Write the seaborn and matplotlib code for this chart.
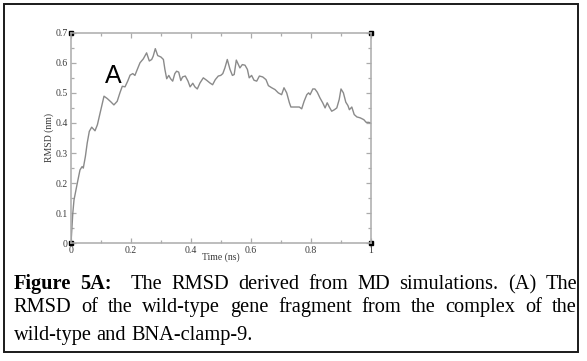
import numpy as np
import pandas as pd
import seaborn as sns
import matplotlib
matplotlib.use("Agg")
import matplotlib.pyplot as plt
from matplotlib.patches import Rectangle
from matplotlib.transforms import IdentityTransform

# ---------------- data ----------------
time_ns = [0.0, 0.006, 0.01, 0.021, 0.03, 0.037, 0.041, 0.048, 0.054, 0.061,
           0.069, 0.08, 0.088, 0.097, 0.11, 0.121, 0.133, 0.143, 0.154, 0.163,
           0.171, 0.18, 0.189, 0.197, 0.206, 0.213, 0.221, 0.23, 0.241, 0.252,
           0.261, 0.269, 0.274, 0.281, 0.289, 0.3, 0.308, 0.313, 0.319, 0.326,
           0.332, 0.339, 0.346, 0.352, 0.359, 0.366, 0.372, 0.381, 0.39, 0.397,
           0.406, 0.413, 0.421, 0.43, 0.441, 0.452, 0.463, 0.472, 0.481, 0.491,
           0.499, 0.506, 0.513, 0.521, 0.53, 0.538, 0.544, 0.551, 0.558, 0.563,
           0.571, 0.58, 0.588, 0.594, 0.602, 0.61, 0.619, 0.628, 0.639, 0.65,
           0.658, 0.669, 0.68, 0.691, 0.702, 0.71, 0.719, 0.728, 0.733, 0.747,
           0.761, 0.769, 0.777, 0.786, 0.792, 0.797, 0.806, 0.813, 0.821, 0.83,
           0.839, 0.847, 0.854, 0.861, 0.869, 0.878, 0.886, 0.894, 0.9, 0.908,
           0.916, 0.923, 0.928, 0.936, 0.944, 0.953, 0.964, 0.976, 0.984, 0.992,
           1.0]
rmsd_nm = [0.0, 0.1, 0.144, 0.2, 0.244, 0.255, 0.25, 0.289, 0.333, 0.372,
           0.386, 0.374, 0.394, 0.433, 0.489, 0.481, 0.47, 0.46, 0.472, 0.5,
           0.522, 0.52, 0.539, 0.559, 0.564, 0.558, 0.578, 0.6, 0.613, 0.633,
           0.606, 0.611, 0.622, 0.647, 0.624, 0.619, 0.611, 0.578, 0.547, 0.558,
           0.547, 0.539, 0.564, 0.572, 0.569, 0.541, 0.553, 0.556, 0.539, 0.52,
           0.532, 0.52, 0.513, 0.533, 0.55, 0.542, 0.533, 0.527, 0.544, 0.556,
           0.558, 0.564, 0.583, 0.611, 0.578, 0.558, 0.561, 0.609, 0.594, 0.583,
           0.594, 0.592, 0.578, 0.55, 0.558, 0.542, 0.539, 0.556, 0.553, 0.544,
           0.524, 0.517, 0.511, 0.5, 0.494, 0.517, 0.5, 0.467, 0.453, 0.453,
           0.453, 0.447, 0.472, 0.494, 0.5, 0.494, 0.513, 0.513, 0.502, 0.483,
           0.467, 0.45, 0.467, 0.453, 0.439, 0.444, 0.45, 0.478, 0.513, 0.5,
           0.469, 0.458, 0.444, 0.453, 0.428, 0.42, 0.417, 0.411, 0.402, 0.402,
           0.4]

x_ticks = [0, 0.2, 0.4, 0.6, 0.8, 1.0]
x_tick_labels = ["0", "0.2", "0.4", "0.6", "0.8", "1"]
y_ticks = [0, 0.1, 0.2, 0.3, 0.4, 0.5, 0.6, 0.7]
y_tick_labels = ["0", "0.1", "0.2", "0.3", "0.4", "0.5", "0.6", "0.7"]
x_label = "Time (ns)"
y_label = "RMSD (nm)"
panel_label = "A"

caption_lines = [
    [("Figure", True), ("5A:", True), ("The", False), ("RMSD", False), ("derived", False),
     ("from", False), ("MD", False), ("simulations.", False), ("(A)", False), ("The", False)],
    [("RMSD", False), ("of", False), ("the", False), ("wild-type", False), ("gene", False),
     ("fragment", False), ("from", False), ("the", False), ("complex", False), ("of", False),
     ("the", False)],
    [("wild-type", False), ("and", False), ("BNA-clamp-9.", False)],
]

# ---------------- style ----------------
sns.set_theme(style="white")
plt.rcParams["font.family"] = ["Liberation Serif", "DejaVu Serif"]

W, H = 587, 361
fig = plt.figure(figsize=(W / 100, H / 100), dpi=100)
fig.patch.set_facecolor("white")

ax_left, ax_right, ax_top, ax_bottom = 71, 371, 32.7, 243.3
ax = fig.add_axes([ax_left / W, (H - ax_bottom) / H,
                   (ax_right - ax_left) / W, (ax_bottom - ax_top) / H])
ax.set_facecolor("white")

df = pd.DataFrame({x_label: time_ns, y_label: rmsd_nm})
sns.lineplot(data=df, x=x_label, y=y_label, ax=ax, color="#8a8a8a", linewidth=1.0)

ax.set_xlim(0, 1)
ax.set_ylim(0, 0.7)
ax.set_xticks(x_ticks)
ax.set_xticklabels(x_tick_labels)
ax.set_yticks(y_ticks)
ax.set_yticklabels(y_tick_labels)
ax.set_xticks(np.arange(0, 1.0001, 0.1), minor=True)
ax.set_yticks(np.arange(0, 0.7001, 0.05), minor=True)

spine_col = "#ababab"
for s in ax.spines.values():
    s.set_visible(True)
    s.set_color(spine_col)
    s.set_linewidth(1.1)

ax.tick_params(which="both", direction="in", top=True, right=True,
               bottom=True, left=True, color=spine_col, width=0.9)
ax.tick_params(which="major", length=3.6, pad=2.2, labelsize=7, labelcolor="#3a3a3a")
ax.tick_params(which="minor", length=2.2)

ax.set_xlabel(x_label, fontsize=7, color="#3a3a3a")
ax.set_ylabel(y_label, fontsize=7, color="#3a3a3a")
ax.xaxis.set_label_coords(0.5, -0.045)
ax.xaxis.label.set_va("top")
ax.yaxis.set_label_coords(-0.055, 0.5)

# corner squares (xmgrace style)
ax.plot([0, 1, 0, 1], [0, 0, 1, 1], "s", ms=3, color="black",
        transform=ax.transAxes, clip_on=False)

# panel label
ax.text(0.113, 0.534, panel_label, fontsize=18, family="Liberation Sans",
        ha="left", va="baseline", color="black")

# outer border
fig.patches.append(Rectangle((4, H - 352), 574, 348, transform=IdentityTransform(),
                             fill=False, edgecolor="#1a1a1a", linewidth=1.4))

# caption with justified lines
fs = 14.7
baselines = [289, 312, 340]
x0, x1 = 13.5, 577
fig.canvas.draw()
renderer = fig.canvas.get_renderer()
for li, (words, yb) in enumerate(zip(caption_lines, baselines)):
    texts = []
    for w, b in words:
        t = fig.text(0, 0, w, fontsize=fs, fontweight="bold" if b else "normal",
                     ha="left", va="baseline", color="black",
                     transform=IdentityTransform())
        texts.append(t)
    widths = [t.get_window_extent(renderer).width for t in texts]
    weights = [1.0] * (len(words) - 1)
    if li == 0:
        weights[1] = 2.0  # double space after "5A:"
    if li < 2:
        gap_unit = (x1 - x0 - sum(widths)) / sum(weights)
    else:
        gap_unit = fs * 100 / 72 * 0.25
    x = x0
    for i, t in enumerate(texts):
        t.set_position((x, H - yb))
        x += widths[i]
        if i < len(weights):
            x += gap_unit * weights[i]

fig.savefig("out.png", dpi=100, facecolor="white")
